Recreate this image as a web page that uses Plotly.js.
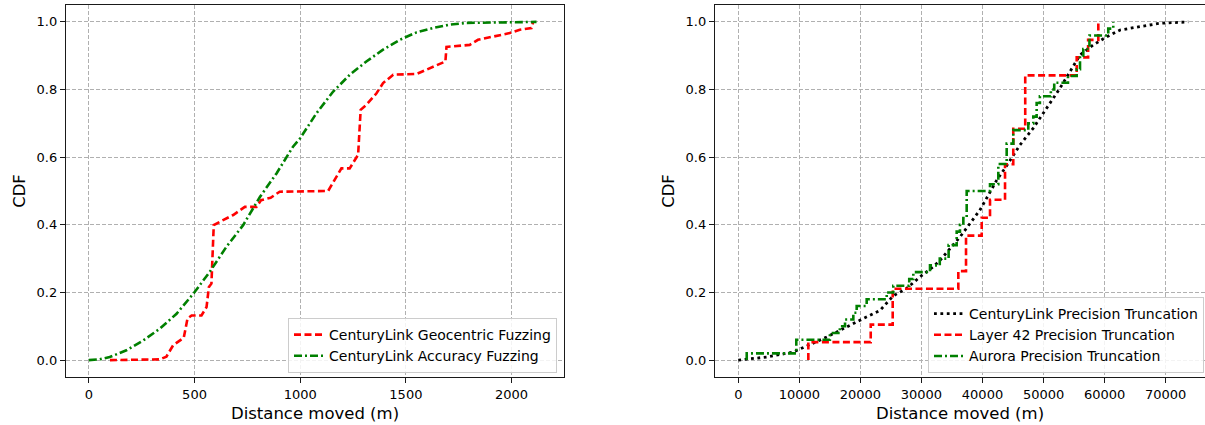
<!DOCTYPE html>
<html>
<head>
<meta charset="utf-8">
<script src="https://cdn.plot.ly/plotly-3.0.1.min.js"></script>
<style>html,body{margin:0;padding:0;background:#fff;}#chart{width:1205px;height:425px;}</style>
</head>
<body>
<div id="chart"></div>
<script>
// ---- Left panel data ----
const geoFuzzX = [100, 336, 367, 399, 449, 467, 486, 533, 557, 568, 580, 591, 635, 683, 738, 793, 815, 860, 903, 1132, 1195, 1234, 1274, 1286, 1313, 1361, 1392, 1440, 1550, 1645, 1687, 1692, 1802, 1841, 1991, 2039, 2094, 2102];
const geoFuzzY = [0, 0.002, 0.01, 0.044, 0.066, 0.123, 0.132, 0.132, 0.157, 0.216, 0.226, 0.399, 0.414, 0.429, 0.453, 0.453, 0.473, 0.48, 0.498, 0.5, 0.567, 0.567, 0.607, 0.74, 0.755, 0.789, 0.819, 0.844, 0.846, 0.873, 0.883, 0.926, 0.932, 0.947, 0.967, 0.977, 0.982, 1.0];
const accFuzzX = [0, 50, 99, 178, 257, 336, 415, 498, 572, 651, 730, 810, 888, 966, 1000, 1077, 1156, 1235, 1313, 1392, 1471, 1550, 1629, 1708, 1787, 1944, 2118];
const accFuzzY = [0, 0.002, 0.009, 0.029, 0.058, 0.093, 0.137, 0.199, 0.261, 0.335, 0.399, 0.483, 0.552, 0.631, 0.656, 0.730, 0.794, 0.844, 0.883, 0.918, 0.947, 0.969, 0.982, 0.992, 0.997, 0.999, 1.0];

// ---- Right panel data ----
const clTruncX = [0, 4650, 9010, 14480, 19930, 23210, 25390, 27580, 29760, 31940, 33040, 36310, 39590, 42330, 43960, 46140, 48320, 50510, 52690, 54330, 55970, 58150, 60340, 62520, 65800, 69070, 73710];
const clTruncY = [0, 0.009, 0.024, 0.068, 0.118, 0.147, 0.19, 0.212, 0.246, 0.276, 0.295, 0.364, 0.444, 0.532, 0.575, 0.636, 0.686, 0.745, 0.804, 0.853, 0.902, 0.932, 0.956, 0.976, 0.986, 0.996, 1.0];
const l42TruncX = [11470, 11470, 21690, 25290, 36040, 37300, 39870, 41230, 43690, 45040, 47000, 55430, 57300, 58970];
const l42TruncY = [0, 0.053, 0.105, 0.211, 0.263, 0.368, 0.421, 0.474, 0.579, 0.684, 0.842, 0.895, 0.947, 1.0];
const auroraTruncX = [1380, 1380, 9500, 15000, 16630, 17480, 18840, 19390, 21030, 24310, 25390, 28000, 28670, 31400, 33000, 34450, 35770, 36310, 36860, 37410, 41230, 42590, 43960, 45040, 47500, 48320, 48870, 49400, 51200, 51750, 54000, 55430, 55970, 56510, 57520, 60600, 61420];
const auroraTruncY = [0, 0.02, 0.06, 0.08, 0.10, 0.12, 0.14, 0.16, 0.18, 0.20, 0.22, 0.24, 0.26, 0.28, 0.30, 0.34, 0.38, 0.40, 0.42, 0.50, 0.52, 0.58, 0.64, 0.68, 0.70, 0.72, 0.76, 0.78, 0.80, 0.82, 0.84, 0.86, 0.90, 0.92, 0.96, 0.98, 1.0];

const yTicks = [0, 0.2, 0.4, 0.6, 0.8, 1.0];
const leftXTicks = [0, 500, 1000, 1500, 2000];
const rightXTicks = [0, 10000, 20000, 30000, 40000, 50000, 60000, 70000];

const FONT = 'DejaVu Sans, sans-serif';
const W = 1205, H = 425;

const traces = [
  {x: geoFuzzX, y: geoFuzzY, name: 'CenturyLink Geocentric Fuzzing', mode: 'lines', xaxis: 'x', yaxis: 'y',
   line: {color: '#ff0000', width: 2.6, dash: '7px,3.5px'}, legend: 'legend'},
  {x: accFuzzX, y: accFuzzY, name: 'CenturyLink Accuracy Fuzzing', mode: 'lines', xaxis: 'x', yaxis: 'y',
   line: {color: '#008000', width: 2.6, dash: '8px,3px,2px,3px'}, legend: 'legend'},
  {x: clTruncX, y: clTruncY, name: 'CenturyLink Precision Truncation', mode: 'lines', xaxis: 'x2', yaxis: 'y2',
   line: {color: '#000000', width: 2.8, dash: '2.8px,3.6px'}, legend: 'legend2'},
  {x: l42TruncX, y: l42TruncY, name: 'Layer 42 Precision Truncation', mode: 'lines', xaxis: 'x2', yaxis: 'y2',
   line: {color: '#ff0000', width: 2.6, dash: '7px,3.5px', shape: 'hv'}, legend: 'legend2'},
  {x: auroraTruncX, y: auroraTruncY, name: 'Aurora Precision Truncation', mode: 'lines', xaxis: 'x2', yaxis: 'y2',
   line: {color: '#008000', width: 2.6, dash: '8px,3px,2px,3px', shape: 'hv'}, legend: 'legend2'}
];

const common = {
  showgrid: true, gridcolor: '#b0b0b0', gridwidth: 1, griddash: '4px,2px',
  zeroline: false, showline: true, linecolor: '#1a1a1a', linewidth: 1.2,
  ticks: 'outside', ticklen: 5, tickwidth: 1.1, tickcolor: '#1a1a1a',
  tickfont: {family: FONT, size: 13, color: '#000'}, automargin: false
};

const yBottom = (H - 377) / H, yTop = (H - 5) / H;

const layout = {
  width: W, height: H,
  margin: {l: 0, r: 0, t: 0, b: 0},
  paper_bgcolor: '#ffffff', plot_bgcolor: '#ffffff',
  font: {family: FONT, color: '#000'},
  showlegend: true,
  xaxis: Object.assign({}, common, {
    domain: [66 / W, 564 / W], range: [-108, 2248], anchor: 'y', mirror: true,
    tickvals: leftXTicks, ticktext: leftXTicks.map(String),
    title: {text: 'Distance moved (m)', font: {family: FONT, size: 16.5}, standoff: 6}
  }),
  yaxis: Object.assign({}, common, {
    domain: [yBottom, yTop], range: [-0.05, 1.05], anchor: 'x', mirror: true,
    tickvals: yTicks, tickformat: '.1f',
    title: {text: 'CDF', font: {family: FONT, size: 16.5}, standoff: 6}
  }),
  xaxis2: Object.assign({}, common, {
    domain: [715 / W, 1], range: [-3817, 76446], anchor: 'y2', mirror: true,
    tickvals: rightXTicks, ticktext: rightXTicks.map(String),
    title: {text: 'Distance moved (m)', font: {family: FONT, size: 16.5}, standoff: 6}
  }),
  yaxis2: Object.assign({}, common, {
    domain: [yBottom, yTop], range: [-0.05, 1.05], anchor: 'x2', mirror: false,
    tickvals: yTicks, tickformat: '.1f',
    title: {text: 'CDF', font: {family: FONT, size: 16.5}, standoff: 6}
  }),
  legend: {
    x: 557 / W, y: (H - 373) / H, xanchor: 'right', yanchor: 'bottom',
    bgcolor: 'rgba(255,255,255,0.85)', bordercolor: '#cccccc', borderwidth: 1,
    font: {family: FONT, size: 14, color: '#000'}, tracegroupgap: 0
  },
  legend2: {
    x: 928 / W, y: (H - 373) / H, xanchor: 'left', yanchor: 'bottom',
    bgcolor: 'rgba(255,255,255,0.85)', bordercolor: '#cccccc', borderwidth: 1,
    font: {family: FONT, size: 14, color: '#000'}, tracegroupgap: 0
  }
};

Plotly.newPlot('chart', traces, layout, {displayModeBar: false, staticPlot: true});
</script>
</body>
</html>
